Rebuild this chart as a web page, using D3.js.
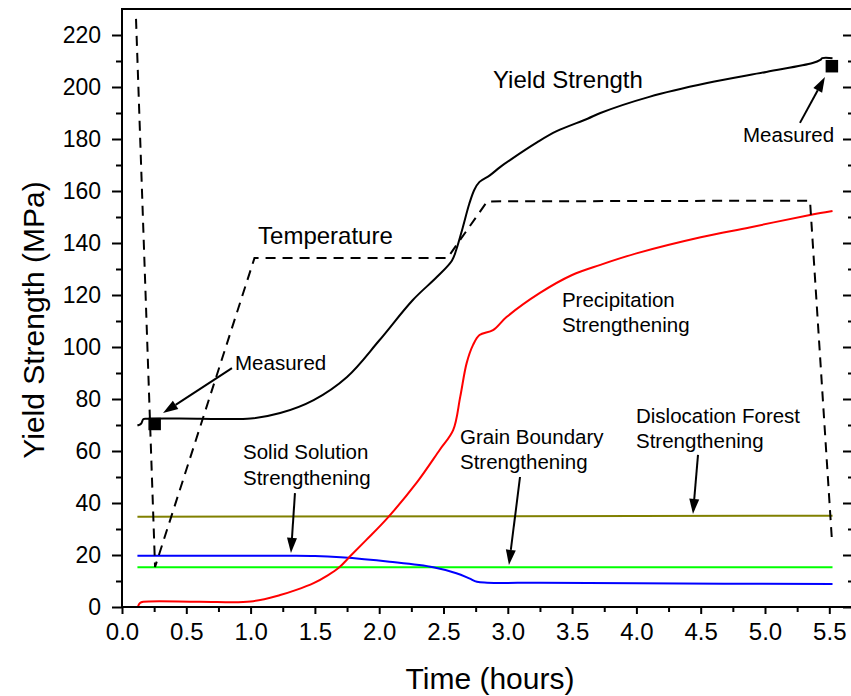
<!DOCTYPE html>
<html>
<head>
<meta charset="utf-8">
<script src="https://cdn.jsdelivr.net/npm/d3@7"></script>
<style>
  html, body { margin: 0; padding: 0; background: #fff; }
  svg { display: block; }
  text { font-family: "Liberation Sans", Arial, Helvetica, sans-serif; fill: #000; }
</style>
</head>
<body>
<svg id="chart" width="851" height="696"></svg>
<script>
(function () {
// ---------------- DATA ----------------
// Time in hours, strength in MPa
const yieldStrength = [
  [0.12, 69.8], [0.15, 70.6], [0.165, 72.2], [0.19, 72.4], [0.6, 72.45], [1.0, 72.5], [1.23, 74.6],
  [1.49, 79.6], [1.75, 88.5], [2.0, 102.5], [2.26, 118], [2.45, 127], [2.565, 133.2],
  [2.6, 137.5], [2.65, 146], [2.7, 155], [2.74, 160.5], [2.78, 163.5], [2.86, 166],
  [2.94, 169.2], [3.02, 172], [3.23, 178.8], [3.38, 183], [3.62, 187.8], [3.72, 190],
  [4.1, 196.2], [4.55, 201.5], [5.01, 205.8], [5.37, 209.2], [5.43, 210.4],
  [5.445, 211.1], [5.525, 211.1]
];
const precipitation = [
  [0.125, 0.3], [0.14, 1.5], [0.165, 2.0], [0.6, 2.05], [1.0, 2.1], [1.23, 4.6], [1.35, 6.5],
  [1.49, 9.2], [1.6, 12.2], [1.69, 15.3], [1.77, 19.3], [1.9, 25.8], [2.06, 34.0], [2.29, 47.7],
  [2.47, 60.4], [2.575, 68], [2.63, 80.8], [2.68, 93.8], [2.73, 100.8], [2.78, 104.6],
  [2.885, 106.5], [2.99, 111.5], [3.25, 120.8], [3.5, 127.7], [3.72, 131.6], [4.0, 136],
  [4.5, 142.2], [4.88, 146], [5.35, 150.8], [5.43, 151.5], [5.525, 152.3]
];
const solidSolution = [
  [0.12, 19.7], [0.7, 19.7], [1.3, 19.7], [1.5, 19.6], [1.7, 19.1], [2.08, 17.4], [2.42, 15.3],
  [2.6, 13], [2.7, 11], [2.76, 9.7], [2.84, 9.35], [3.25, 9.3], [4.0, 9.1], [5.525, 8.8]
];
const grainBoundary = [[0.12, 15.3], [5.525, 15.3]];
const dislocationForest = [[0.12, 34.7], [5.525, 35.1]];
// Temperature profile, drawn on the strength scale (no temperature axis shown)
const temperature = [
  [0.109, 226.2], [0.257, 15.4], [1.03, 134.2], [2.53, 134.2], [2.84, 156],
  [5.35, 156.3], [5.52, 26]
];
const measured = [[0.254, 70.4], [5.52, 208]];

const xTicks = [0, 0.5, 1, 1.5, 2, 2.5, 3, 3.5, 4, 4.5, 5, 5.5];
const yTicks = [0, 20, 40, 60, 80, 100, 120, 140, 160, 180, 200, 220];

// annotations: text lines at [t, v] (baseline-left)
const labels = [
  { lines: ["Yield Strength"], at: [2.885, 199.6], size: 24 },
  { lines: ["Temperature"], at: [1.058, 139.6], size: 24 },
  { lines: ["Measured"], at: [0.879, 91.2], size: 20.5 },
  { lines: ["Measured"], at: [4.829, 178.8], size: 20.5 },
  { lines: ["Precipitation", "Strengthening"], at: [3.421, 115.4], size: 20.5 },
  { lines: ["Solid Solution", "Strengthening"], at: [0.941, 56.9], size: 20.5 },
  { lines: ["Grain Boundary", "Strengthening"], at: [2.628, 62.7], size: 20.5 },
  { lines: ["Dislocation Forest", "Strengthening"], at: [3.997, 70.8], size: 20.5 }
];
// arrows: from -> tip (data coords)
const arrows = [
  [[0.855, 91.9], [0.319, 74.6]],
  [[5.272, 186.2], [5.466, 203.8]],
  [[1.345, 43.8], [1.314, 20.8]],
  [[3.095, 50.0], [3.009, 16.2]],
  [[4.479, 58.5], [4.44, 35.8]]
];

// ---------------- CHART ----------------
const svg = d3.select("#chart");
const pLeft = 122, pRight = 852, pTop = 9, pBottom = 607;

const x = d3.scaleLinear().domain([0, 5.5]).range([pLeft, 829.3]);
const y = d3.scaleLinear().domain([0, 230]).range([pBottom, pTop]);

const line = d3.line().x(d => x(d[0])).y(d => y(d[1])).curve(d3.curveCatmullRom.alpha(0.5));
const straight = d3.line().x(d => x(d[0])).y(d => y(d[1]));

// data curves
const series = [
  { data: dislocationForest, color: "#808000" },
  { data: grainBoundary, color: "#00ff00" },
  { data: solidSolution, color: "#0000ff" },
  { data: precipitation, color: "#ff0000" },
  { data: yieldStrength, color: "#000000" }
];
series.forEach(s => {
  svg.append("path").attr("d", line(s.data)).attr("fill", "none")
    .attr("stroke", s.color).attr("stroke-width", 2).attr("stroke-linejoin", "round");
});

svg.append("path").attr("d", straight(temperature)).attr("fill", "none")
  .attr("stroke", "#000").attr("stroke-width", 2).attr("stroke-dasharray", "10,7");

// measured points
const sq = 12.5;
svg.selectAll("rect.meas").data(measured).enter().append("rect")
  .attr("x", d => x(d[0]) - sq / 2).attr("y", d => y(d[1]) - sq / 2)
  .attr("width", sq).attr("height", sq).attr("fill", "#000");

// arrows
arrows.forEach(([a, b]) => {
  const x1 = x(a[0]), y1 = y(a[1]), x2 = x(b[0]), y2 = y(b[1]);
  const ang = Math.atan2(y2 - y1, x2 - x1);
  const L = 15, W = 5;
  const bx = x2 - L * Math.cos(ang), by = y2 - L * Math.sin(ang);
  svg.append("line").attr("x1", x1).attr("y1", y1).attr("x2", bx).attr("y2", by)
    .attr("stroke", "#000").attr("stroke-width", 2);
  const px = -Math.sin(ang) * W, py = Math.cos(ang) * W;
  svg.append("path")
    .attr("d", `M${x2},${y2}L${bx + px},${by + py}L${bx - px},${by - py}Z`)
    .attr("fill", "#000");
});

// labels
labels.forEach(l => {
  const t = svg.append("text").attr("x", x(l.at[0])).attr("y", y(l.at[1]))
    .attr("font-size", l.size);
  l.lines.forEach((s, i) => {
    t.append("tspan").attr("x", x(l.at[0])).attr("dy", i === 0 ? 0 : 25.5).text(s);
  });
});

// axes
const yMinor = d3.range(10, 230, 20);
const xMinor = d3.range(0.25, 5.7, 0.5);

const gLeft = svg.append("g").attr("transform", `translate(${pLeft},0)`);
gLeft.call(d3.axisLeft(y).tickValues(yMinor).tickSize(6).tickFormat("").tickSizeOuter(0));
gLeft.call(g => g.select(".domain").remove());
const gLeft2 = svg.append("g").attr("transform", `translate(${pLeft},0)`);
gLeft2.call(d3.axisLeft(y).tickValues(yTicks).tickSize(10).tickPadding(11).tickSizeOuter(0));
gLeft2.selectAll("text").attr("font-size", 23).attr("font-family", null);
gLeft2.select(".domain").remove();

const gBot = svg.append("g").attr("transform", `translate(0,${pBottom})`);
gBot.call(d3.axisBottom(x).tickValues(xMinor).tickSize(5).tickFormat("").tickSizeOuter(0));
gBot.call(g => g.select(".domain").remove());
const gBot2 = svg.append("g").attr("transform", `translate(0,${pBottom})`);
gBot2.call(d3.axisBottom(x).tickValues(xTicks).tickSize(7).tickPadding(9)
  .tickFormat(d3.format(".1f")).tickSizeOuter(0));
gBot2.selectAll("text").attr("font-size", 24).attr("font-family", null);
gBot2.select(".domain").remove();

// right axis ticks (inward)
const gRight = svg.append("g").attr("transform", `translate(${pRight},0)`);
gRight.call(d3.axisLeft(y).tickValues(yTicks).tickSize(9).tickFormat("").tickSizeOuter(0));
gRight.call(g => g.select(".domain").remove());
const gRight2 = svg.append("g").attr("transform", `translate(${pRight},0)`);
gRight2.call(d3.axisLeft(y).tickValues(yMinor).tickSize(4).tickFormat("").tickSizeOuter(0));
gRight2.call(g => g.select(".domain").remove());

svg.selectAll(".tick line").attr("stroke-width", 2);

// frame lines
svg.append("line").attr("x1", pLeft).attr("x2", pLeft).attr("y1", pTop - 1).attr("y2", pBottom + 1)
  .attr("stroke", "#000").attr("stroke-width", 2);
svg.append("line").attr("x1", pLeft - 1).attr("x2", 851).attr("y1", pBottom).attr("y2", pBottom)
  .attr("stroke", "#000").attr("stroke-width", 2);
svg.append("line").attr("x1", pLeft - 1).attr("x2", 851).attr("y1", pTop).attr("y2", pTop)
  .attr("stroke", "#000").attr("stroke-width", 2);

// axis titles
svg.append("text").attr("transform", `translate(44,320) rotate(-90)`)
  .attr("text-anchor", "middle").attr("font-size", 30).text("Yield Strength (MPa)");
svg.append("text").attr("x", 490).attr("y", 689).attr("text-anchor", "middle")
  .attr("font-size", 30).text("Time (hours)");
})();
</script>
</body>
</html>
